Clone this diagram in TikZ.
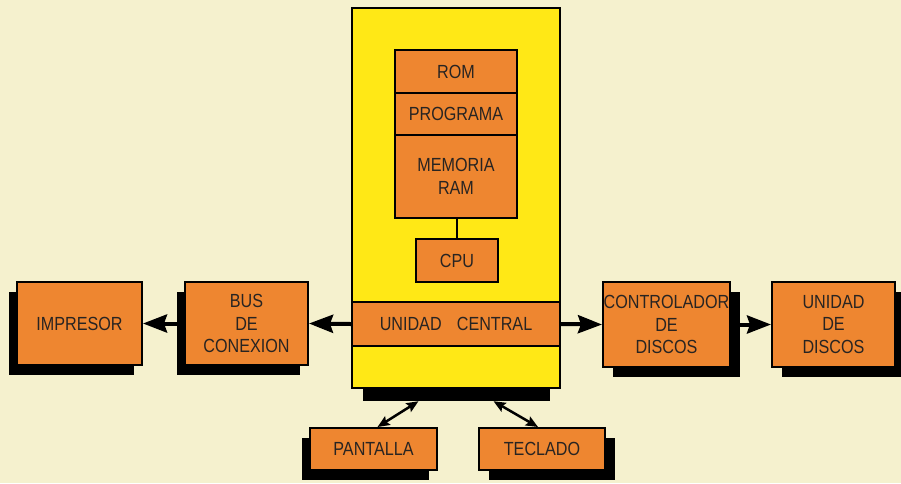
\documentclass[tikz,border=0pt]{standalone}
\usepackage{fontspec}
\setmainfont{Liberation Sans}
\newfontfamily\boxfont[FakeStretch=0.85]{Liberation Sans}
\usetikzlibrary{arrows.meta,shadows,calc}
\definecolor{bgc}{RGB}{245,241,206}
\definecolor{yel}{RGB}{255,232,22}
\definecolor{org}{RGB}{238,134,48}
\definecolor{txt}{RGB}{40,36,34}
\begin{document}
\begin{tikzpicture}[x=1pt,y=-1pt,
  box/.style={draw=black,line width=2pt,fill=org,text=txt,align=center,
    inner sep=0pt,font=\boxfont\fontsize{19}{22.5}\selectfont},
  shl/.style={drop shadow={shadow xshift=-8pt,shadow yshift=-10pt,opacity=1,fill=black}},
  shr/.style={drop shadow={shadow xshift=10pt,shadow yshift=-10pt,opacity=1,fill=black}},
  arr/.style={line width=4pt,-{Stealth[length=24pt,width=18pt,inset=3pt]}},
  darr/.style={line width=2.5pt,{Stealth[length=12pt,width=10pt,inset=2pt]}-{Stealth[length=12pt,width=10pt,inset=2pt]}}]
\fill[bgc] (0,0) rectangle (901,483);
\useasboundingbox (0,0) rectangle (901,483);
% central unit
\node[fill=black,minimum width=187,minimum height=16,inner sep=0pt] (ysh) at (456.5,393) {};
\node[draw=black,line width=2pt,fill=yel,minimum width=208,minimum height=380,inner sep=0pt] (cu) at (456,198) {};
\node[box,minimum width=122,minimum height=43] (rom) at (456,71.5) {ROM};
\node[box,minimum width=122,minimum height=42] (prg) at (456,114) {PROGRAMA};
\node[box,minimum width=122,minimum height=83] (ram) at (456,176.5) {MEMORIA\\RAM};
\node[box,minimum width=82,minimum height=43] (cpu) at (457,260.5) {CPU};
\draw[line width=2pt] (ram.south -| cpu.north) -- (cpu.north);
\node[box,minimum width=208,minimum height=44] (band) at (456,324) {UNIDAD\hspace{0.8em}CENTRAL};
% left
\node[box,shl,minimum width=125,minimum height=83] (imp) at (79.5,323.5) {IMPRESOR};
\node[box,shl,minimum width=123,minimum height=83] (bus) at (246.5,323.5) {BUS\\DE\\CONEXION};
% right
\node[box,shr,minimum width=127,minimum height=85] (ctl) at (666.5,324.5) {CONTROLADOR\\DE\\DISCOS};
\node[box,shr,minimum width=123,minimum height=85] (uni) at (833.5,324.5) {UNIDAD\\DE\\DISCOS};
% bottom
\node[box,shl,minimum width=127,minimum height=42] (pan) at (373.5,449) {PANTALLA};
\node[box,shr,minimum width=126,minimum height=42] (tec) at (542,449) {TECLADO};
% connectors
\draw[arr] (band.west) -- (bus.east);
\draw[arr] (bus.west) -- (imp.east);
\draw[arr] (band.east) -- (ctl.west);
\draw[arr] (ctl.east) -- (uni.west);
\draw[darr] ($(ysh.south)+(-38,0)$) -- ($(pan.north)+(4,0)$);
\draw[darr] ($(ysh.south)+(37,0)$) -- ($(tec.north)+(-4,0)$);
\end{tikzpicture}
\end{document}
